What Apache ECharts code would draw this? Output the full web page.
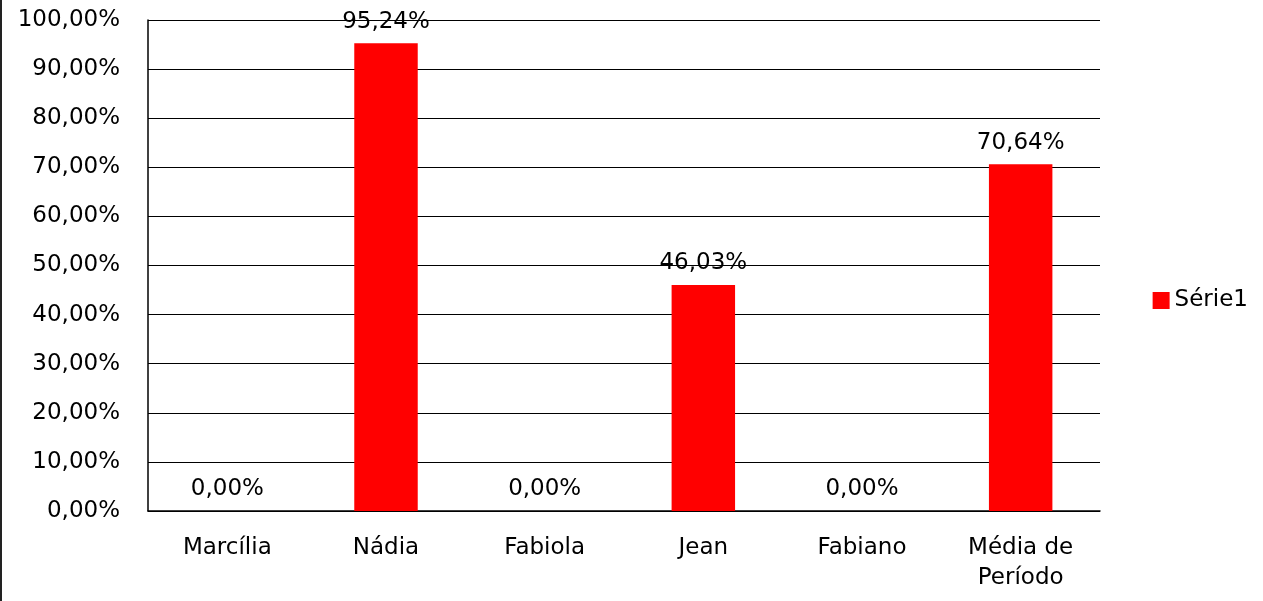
<!DOCTYPE html>
<html>
<head>
<meta charset="utf-8">
<script src="https://cdn.jsdelivr.net/npm/echarts@6/dist/echarts.min.js"></script>
<style>
  html, body { margin: 0; padding: 0; background: #fff; }
  #main { width: 1263px; height: 601px; }
</style>
</head>
<body>
<div id="main"></div>
<script>
// dados do gráfico
var categorias = ['Marcília', 'Nádia', 'Fabiola', 'Jean', 'Fabiano', 'Média de\nPeríodo']
var valores = [0, 95.24, 0, 46.03, 0, 70.64]
var nomeSerie = 'Série1'

var dom = document.getElementById('main')
var myChart = echarts.init(dom)
var fonte = 'DejaVu Sans'

function pct (v) {
  return v.toFixed(2).replace('.', ',') + '%'
}

var option = {
  animation: false,
  backgroundColor: '#fff',
  textStyle: { fontFamily: fonte },
  grid: { left: 148, right: 163, top: 20, bottom: 90 },
  legend: {
    data: [{ name: nomeSerie, icon: 'rect' }],
    right: 10,
    top: 'middle',
    itemWidth: 17,
    itemHeight: 17,
    itemGap: 10,
    textStyle: { fontFamily: fonte, fontSize: 23, color: '#000' }
  },
  graphic: [{
    type: 'rect',
    left: 0,
    top: 0,
    shape: { width: 2, height: 601 },
    style: { fill: '#222' }
  }],
  xAxis: {
    type: 'category',
    data: categorias,
    axisLine: { lineStyle: { color: '#000', width: 1.5 } },
    axisTick: { show: false },
    axisLabel: {
      color: '#000',
      fontSize: 23,
      fontFamily: fonte,
      margin: 22,
      lineHeight: 30
    }
  },
  yAxis: {
    type: 'value',
    min: 0,
    max: 100,
    interval: 10,
    axisLine: { show: true, lineStyle: { color: '#000', width: 1.5 } },
    axisTick: { show: false },
    splitLine: { lineStyle: { color: '#000', width: 1 } },
    axisLabel: {
      color: '#000',
      fontSize: 23,
      fontFamily: fonte,
      margin: 28,
      formatter: function (v) { return pct(v) }
    }
  },
  series: [{
    name: nomeSerie,
    type: 'bar',
    data: valores,
    barWidth: '40%',
    itemStyle: { color: '#ff0000' },
    label: {
      show: true,
      position: 'top',
      distance: 10,
      color: '#000',
      fontSize: 23,
      fontFamily: fonte,
      formatter: function (p) { return pct(p.value) }
    }
  }]
}
myChart.setOption(option)
</script>
</body>
</html>
